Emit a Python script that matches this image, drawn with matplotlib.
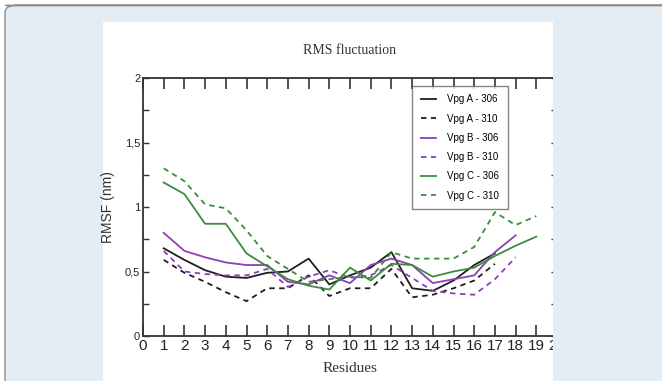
import matplotlib.pyplot as plt
from matplotlib.patches import FancyBboxPatch, Rectangle
import numpy as np

# RMSF values (nm), residues 1..N
res = list(range(1, 20))
vpgA306 = [0.68, 0.59, 0.51, 0.46, 0.45, 0.49, 0.50, 0.60, 0.40, 0.47, 0.53, 0.65, 0.37, 0.35, 0.43, 0.55, 0.64]
vpgA310 = [0.59, 0.49, 0.42, 0.34, 0.27, 0.37, 0.37, 0.47, 0.31, 0.37, 0.37, 0.52, 0.30, 0.32, 0.37, 0.43, 0.56]
vpgB306 = [0.80, 0.66, 0.61, 0.57, 0.55, 0.55, 0.42, 0.40, 0.47, 0.41, 0.55, 0.60, 0.55, 0.41, 0.44, 0.47, 0.65, 0.78]
vpgB310 = [0.66, 0.50, 0.48, 0.47, 0.47, 0.52, 0.38, 0.46, 0.51, 0.45, 0.47, 0.55, 0.45, 0.35, 0.33, 0.32, 0.44, 0.61]
vpgC306 = [1.19, 1.10, 0.87, 0.87, 0.64, 0.54, 0.44, 0.39, 0.36, 0.53, 0.43, 0.56, 0.55, 0.46, 0.50, 0.53, 0.62, 0.70, 0.77]
vpgC310 = [1.30, 1.20, 1.02, 0.99, 0.82, 0.62, 0.52, 0.42, 0.44, 0.46, 0.45, 0.65, 0.60, 0.60, 0.60, 0.69, 0.96, 0.86, 0.93]

labels = ['Vpg A - 306', 'Vpg A - 310', 'Vpg B - 306', 'Vpg B - 310', 'Vpg C - 306', 'Vpg C - 310']
yticks = [0, 0.5, 1, 1.5, 2]
ytick_labels = ['0', '0,5', '1', '1,5', '2']

W, H = 662, 381
fig = plt.figure(figsize=(W / 100, H / 100), dpi=100)
fig.patch.set_facecolor('white')

bg = '#e4edf4'
# outer rounded card and white panel
fig.patches.append(FancyBboxPatch((5 / W, -0.1), 1.2, (381 - 5) / H + 0.1,
                                  boxstyle='round,pad=0,rounding_size=0.02',
                                  transform=fig.transFigure, facecolor=bg,
                                  edgecolor='#8c8c8c', linewidth=1.0, zorder=-10))
fig.patches.append(Rectangle((103 / W, 0), (553 - 103) / W, (381 - 22) / H,
                             transform=fig.transFigure, facecolor='white',
                             edgecolor='none', zorder=-9))

ax = fig.add_axes([143 / W, (381 - 336) / H, (557 - 143) / W, (336 - 78) / H])

black = '#1e1e1e'
purple = '#8e3fb5'
green = '#3b8c3b'
lw = 1.3
dash = (0, (3, 2.5))
ax.plot(res[:len(vpgA306)], vpgA306, color=black, lw=lw, label=labels[0])
ax.plot(res[:len(vpgA310)], vpgA310, color=black, lw=lw, ls=dash, label=labels[1])
ax.plot(res[:len(vpgB306)], vpgB306, color=purple, lw=lw, label=labels[2])
ax.plot(res[:len(vpgB310)], vpgB310, color=purple, lw=lw, ls=dash, label=labels[3])
ax.plot(res[:len(vpgC306)], vpgC306, color=green, lw=lw, label=labels[4])
ax.plot(res[:len(vpgC310)], vpgC310, color=green, lw=lw, ls=dash, label=labels[5])

ax.set_xlim(0, 20)
ax.set_ylim(0, 2)
ax.set_xticks(range(0, 21))
ax.set_yticks(yticks)
ax.set_yticklabels(ytick_labels)
ax.set_yticks(np.arange(0.25, 2, 0.5), minor=True)

for s in ax.spines.values():
    s.set_linewidth(1.3)
    s.set_color('#333333')

ax.tick_params(axis='x', direction='in', length=8, width=1.2, top=True,
               labelsize=11, pad=2, colors='#333333')
ax.tick_params(axis='y', which='both', direction='in', length=4, width=1.0,
               right=True, labelsize=8, pad=2, colors='#333333')
for t in ax.get_xticklabels() + ax.get_yticklabels():
    t.set_fontfamily('Liberation Sans')
    t.set_color('#222222')

ax.set_xlabel('Residues', fontfamily='Liberation Serif', fontsize=11, labelpad=7, color='#333333')
ax.set_ylabel('RMSF (nm)', fontfamily='Liberation Sans', fontsize=10, labelpad=7, color='#333333')
ax.set_title('RMS fluctuation', fontfamily='Liberation Serif', fontsize=10, pad=17, color='#333333')

leg = ax.legend(loc='upper left', bbox_to_anchor=(0.65, 0.97), fancybox=False,
                frameon=True, prop={'family': 'Liberation Sans', 'size': 7},
                handlelength=1.6, handletextpad=1.1, labelspacing=0.95,
                borderpad=0.9, borderaxespad=0)
leg.get_frame().set_edgecolor('#666666')
leg.get_frame().set_linewidth(1.0)

# right side of card covers the cut-off chart edge
fig.add_artist(Rectangle((553 / W, 0), 1, (381 - 6) / H, transform=fig.transFigure,
                         facecolor=bg, edgecolor='none', zorder=5))
fig.add_artist(Rectangle((5 / W, (381 - 5) / H), 1, 0.0001, transform=fig.transFigure,
                         facecolor='none', edgecolor='#8c8c8c', linewidth=1.0, zorder=6))

fig.savefig('out.png', dpi=100, facecolor=fig.get_facecolor())
